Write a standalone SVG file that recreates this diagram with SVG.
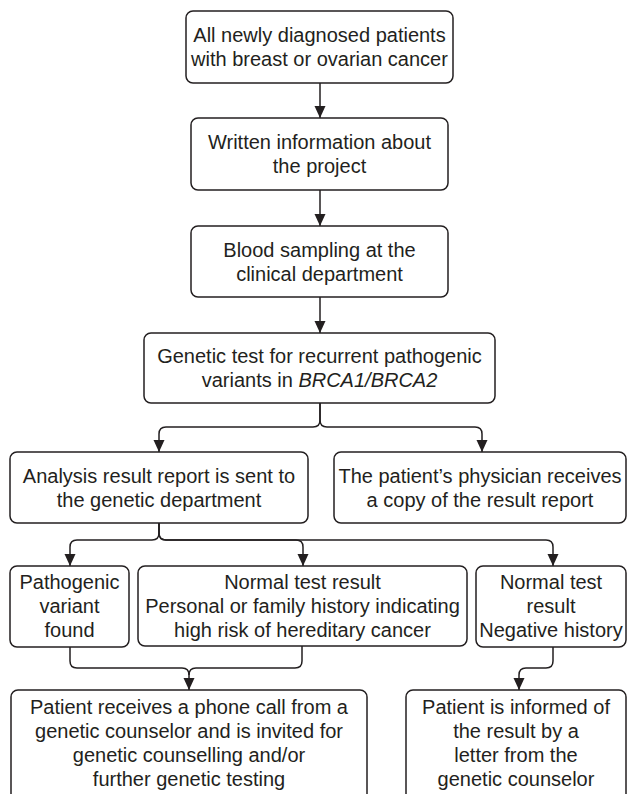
<svg xmlns="http://www.w3.org/2000/svg" width="627" height="794" viewBox="0 0 627 794">
<style>
.box{fill:#fff;stroke:#231f20;stroke-width:1.5}
.lbl{font-family:"Liberation Sans",Arial,sans-serif;font-size:20px;fill:#231f20;text-anchor:middle}
.con{fill:none;stroke:#231f20;stroke-width:1.5}
</style>
<defs>
<marker id="ah" markerUnits="userSpaceOnUse" markerWidth="12" markerHeight="12" refX="12" refY="5.5" orient="auto">
<path d="M0,0 L12,5.5 L0,11 z" fill="#231f20"/>
</marker>
</defs>
<rect width="627" height="794" fill="#fff"/>
<g id="connectors">
<path class="con" marker-end="url(#ah)" d="M320,83 V118"/>
<path class="con" marker-end="url(#ah)" d="M320,190 V226"/>
<path class="con" marker-end="url(#ah)" d="M320,297 V333"/>
<path class="con" marker-end="url(#ah)" d="M320,403 V420 Q320,427 313,427 H166 Q159,427 159,434 V452"/>
<path class="con" marker-end="url(#ah)" d="M320,403 V420 Q320,427 327,427 H475 Q482,427 482,434 V452"/>
<path class="con" marker-end="url(#ah)" d="M159,523 V533 Q159,540 152,540 H77 Q70,540 70,547 V566"/>
<path class="con" marker-end="url(#ah)" d="M159,523 V533 Q159,540 166,540 H296 Q303,540 303,547 V566"/>
<path class="con" marker-end="url(#ah)" d="M159,523 V533 Q159,540 166,540 H546 Q553,540 553,547 V566"/>
<path class="con" marker-end="url(#ah)" d="M70,647 V661 Q70,668 77,668 H182 Q189,668 189,675 V690"/>
<path class="con" d="M302,646 V661 Q302,668 295,668 H196 Q189,668 189,675"/>
<path class="con" marker-end="url(#ah)" d="M553,647 V661 Q553,668 546,668 H526 Q519,668 519,675 V690"/>
</g>
<g id="n1">
<rect class="box" x="186" y="11" width="267" height="72" rx="7"/>
<text class="lbl" x="319.5" y="42">All newly diagnosed patients</text>
<text class="lbl" x="319.5" y="66">with breast or ovarian cancer</text>
</g>
<g id="n2">
<rect class="box" x="191" y="118" width="257" height="72" rx="7"/>
<text class="lbl" x="319.5" y="149">Written information about</text>
<text class="lbl" x="319.5" y="173">the project</text>
</g>
<g id="n3">
<rect class="box" x="191" y="226" width="257" height="71" rx="7"/>
<text class="lbl" x="319.5" y="256.5">Blood sampling at the</text>
<text class="lbl" x="319.5" y="280.5">clinical department</text>
</g>
<g id="n4">
<rect class="box" x="144" y="333" width="351" height="70" rx="7"/>
<text class="lbl" x="319.5" y="363">Genetic test for recurrent pathogenic</text>
<text class="lbl" x="319.5" y="387">variants in <tspan font-style="italic">BRCA1/BRCA2</tspan></text>
</g>
<g id="n5">
<rect class="box" x="10" y="452" width="298" height="71" rx="7"/>
<text class="lbl" x="159" y="482.5">Analysis result report is sent to</text>
<text class="lbl" x="159" y="506.5">the genetic department</text>
</g>
<g id="n6">
<rect class="box" x="334" y="452" width="292" height="71" rx="7"/>
<text class="lbl" x="480" y="482.5">The patient’s physician receives</text>
<text class="lbl" x="480" y="506.5">a copy of the result report</text>
</g>
<g id="n7">
<rect class="box" x="10" y="566" width="119" height="81" rx="7"/>
<text class="lbl" x="69.5" y="588.5">Pathogenic</text>
<text class="lbl" x="69.5" y="612.5">variant</text>
<text class="lbl" x="69.5" y="636.5">found</text>
</g>
<g id="n8">
<rect class="box" x="138" y="566" width="329" height="80" rx="7"/>
<text class="lbl" x="302.5" y="588.5">Normal test result</text>
<text class="lbl" x="302.5" y="612.5">Personal or family history indicating</text>
<text class="lbl" x="302.5" y="636.5">high risk of hereditary cancer</text>
</g>
<g id="n9">
<rect class="box" x="476" y="566" width="150" height="81" rx="7"/>
<text class="lbl" x="551" y="588.5">Normal test</text>
<text class="lbl" x="551" y="612.5">result</text>
<text class="lbl" x="551" y="636.5">Negative history</text>
</g>
<g id="n10">
<rect class="box" x="11" y="690" width="356" height="115" rx="7"/>
<text class="lbl" x="189" y="714">Patient receives a phone call from a</text>
<text class="lbl" x="189" y="738">genetic counselor and is invited for</text>
<text class="lbl" x="189" y="762">genetic counselling and/or</text>
<text class="lbl" x="189" y="786">further genetic testing</text>
</g>
<g id="n11">
<rect class="box" x="406" y="690" width="220" height="115" rx="7"/>
<text class="lbl" x="516" y="714">Patient is informed of</text>
<text class="lbl" x="516" y="738">the result by a</text>
<text class="lbl" x="516" y="762">letter from the</text>
<text class="lbl" x="516" y="786">genetic counselor</text>
</g>
</svg>
